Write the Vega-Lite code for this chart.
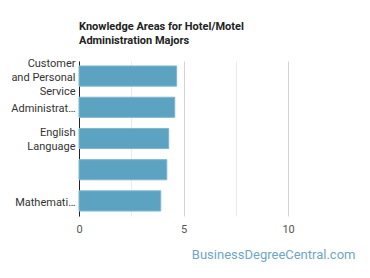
{
  "$schema": "https://vega.github.io/schema/vega-lite/v6.json",
  "width": 276,
  "height": 155,
  "autosize": {"type": "none"},
  "padding": {"left": 79, "top": 61, "right": 15, "bottom": 62},
  "background": "white",
  "title": {
    "text": ["Knowledge Areas for Hotel/Motel", "Administration Majors"],
    "anchor": "start",
    "frame": "group",
    "font": "Roboto",
    "fontSize": 11,
    "fontWeight": "bold",
    "color": "#222222",
    "lineHeight": 14,
    "offset": 12
  },
  "data": {
    "values": [
      {"area": "Customer and Personal Service", "score": 4.67},
      {"area": "Administration and Management", "score": 4.58},
      {"area": "English Language", "score": 4.29},
      {"area": "", "score": 4.2},
      {"area": "Mathematics", "score": 3.91}
    ]
  },
  "mark": {"type": "bar", "color": "#5ca3c1", "stroke": "#7db6cf", "strokeWidth": 1},
  "encoding": {
    "y": {
      "field": "area",
      "type": "nominal",
      "sort": null,
      "scale": {"paddingInner": 0.355, "paddingOuter": 0.16},
      "axis": {
        "title": null,
        "ticks": false,
        "labelPadding": 4,
        "labelLimit": 90,
        "labelFont": "Roboto",
        "labelFontSize": 11,
        "labelColor": "#333333",
        "labelLineHeight": 14,
        "labelOffset": {"condition": [
          {"test": "datum.value == 'Customer and Personal Service'", "value": -12},
          {"test": "datum.value == 'English Language'", "value": -6}
        ], "value": 2},
        "domainColor": "#222222",
        "domainWidth": 1,
        "grid": false,
        "labelExpr": "datum.value == 'Customer and Personal Service' ? ['Customer', 'and Personal', 'Service'] : datum.value == 'English Language' ? ['English', 'Language'] : datum.value == 'Administration and Management' ? 'Administrat…' : datum.value == 'Mathematics' ? 'Mathemati…' : datum.value"
      }
    },
    "x": {
      "field": "score",
      "type": "quantitative",
      "scale": {"domain": [0, 13.2], "nice": false},
      "axis": {
        "values": [0, 2.5, 5, 7.5, 10],
        "labelExpr": "datum.value % 5 == 0 ? datum.label : ''",
        "labelFlush": false,
        "labelOverlap": false,
        "domain": false,
        "ticks": false,
        "grid": true,
        "gridColor": {"condition": {"test": "datum.value % 5 == 0", "value": "#d4d4d4"}, "value": "#ebebeb"},
        "labelPadding": 7,
        "labelFont": "Roboto",
        "labelFontSize": 11,
        "labelColor": "#555555",
        "title": "BusinessDegreeCentral.com",
        "titleAnchor": "end",
        "titleFont": "Roboto",
        "titleFontSize": 13,
        "titleFontWeight": "normal",
        "titleColor": "#6fa6c3",
        "titlePadding": 14
      }
    }
  },
  "config": {"view": {"stroke": null}}
}
